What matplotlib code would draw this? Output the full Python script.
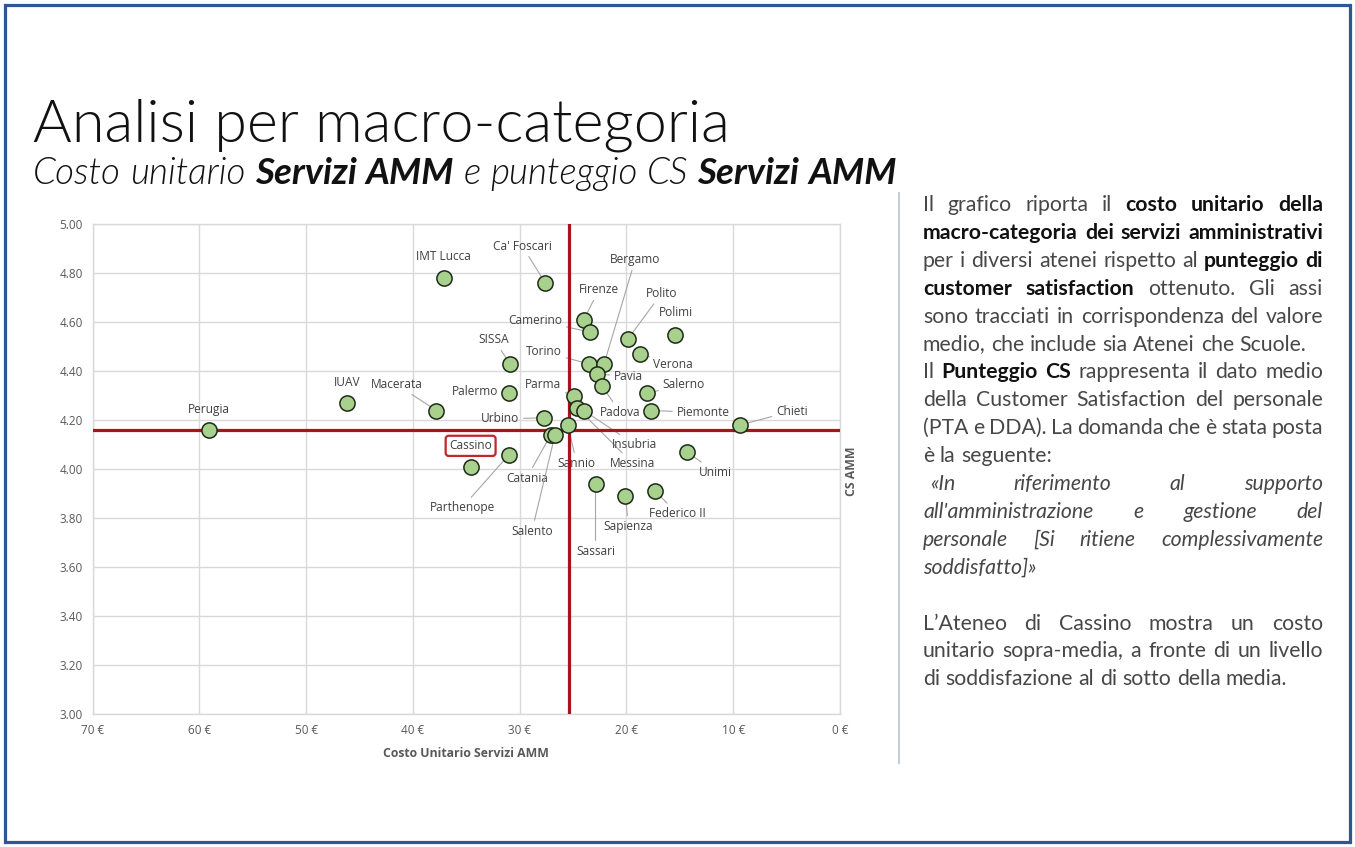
import matplotlib
matplotlib.use("Agg")
import matplotlib.pyplot as plt
from matplotlib.patches import Rectangle
from matplotlib.lines import Line2D

# ---------------- data ----------------
universities = ["Perugia", "IUAV", "Macerata", "IMT Lucca", "Ca' Foscari", "SISSA",
                "Palermo", "Cassino", "Parthenope", "Urbino", "Catania", "Salento",
                "Sannio", "Parma", "Messina", "Insubria", "Firenze", "Camerino",
                "Torino", "Bergamo", "Pavia", "Padova", "Sassari", "Polito",
                "Sapienza", "Verona", "Salerno", "Piemonte", "Federico II", "Polimi",
                "Unimi", "Chieti"]
cost = [59.1, 46.2, 37.8, 37.1, 27.6, 30.9,
        31.0, 34.6, 31.0, 27.7, 27.1, 26.7,
        25.5, 24.9, 24.6, 24.0, 24.0, 23.4,
        23.5, 22.1, 22.8, 22.3, 22.9, 19.9,
        20.1, 18.7, 18.1, 17.7, 17.3, 15.5,
        14.3, 9.4]
cs_score = [4.16, 4.27, 4.24, 4.78, 4.76, 4.43,
            4.31, 4.01, 4.06, 4.21, 4.14, 4.14,
            4.18, 4.30, 4.25, 4.24, 4.61, 4.56,
            4.43, 4.43, 4.39, 4.34, 3.94, 4.53,
            3.89, 4.47, 4.31, 4.24, 3.91, 4.55,
            4.07, 4.18]
mean_cost = 25.4
mean_cs = 4.16
x_ticks = [70, 60, 50, 40, 30, 20, 10, 0]
x_tick_labels = ["70 €", "60 €", "50 €", "40 €", "30 €", "20 €", "10 €", "0 €"]
y_ticks = [3.0, 3.2, 3.4, 3.6, 3.8, 4.0, 4.2, 4.4, 4.6, 4.8, 5.0]
y_tick_labels = ["3.00", "3.20", "3.40", "3.60", "3.80", "4.00", "4.20", "4.40",
                 "4.60", "4.80", "5.00"]

title = "Analisi per macro-categoria"
subtitle = [("Costo unitario", "i"), ("Servizi AMM", "bi"), ("e punteggio CS", "i"),
            ("Servizi AMM", "bi")]
paragraph = [
    ("Il grafico riporta il **costo unitario della**", "n", True),
    ("**macro-categoria dei servizi amministrativi**", "n", True),
    ("per i diversi atenei rispetto al **punteggio di**", "n", True),
    ("**customer satisfaction** ottenuto. Gli assi", "n", True),
    ("sono tracciati in corrispondenza del valore", "n", True),
    ("medio, che include sia Atenei che Scuole.", "n", False),
    ("Il **Punteggio CS** rappresenta il dato medio", "n", True),
    ("della Customer Satisfaction del personale", "n", True),
    ("(PTA e DDA). La domanda che è stata posta", "n", True),
    ("è la seguente:", "n", False),
    ("«In riferimento al supporto", "i", True),
    ("all'amministrazione e gestione del", "i", True),
    ("personale [Si ritiene complessivamente", "i", True),
    ("soddisfatto]»", "i", False),
    ("", "n", False),
    ("L’Ateneo di Cassino mostra un costo", "n", True),
    ("unitario sopra-media, a fronte di un livello", "n", True),
    ("di soddisfazione al di sotto della media.", "n", False),
]

# label layout: offsets in pixels (dx right, dy up), leader line flag
label_layout = {
    "Perugia": (0, 21, False), "IUAV": (0, 21, False), "Macerata": (-40, 26, True),
    "IMT Lucca": (0, 22, False), "Ca' Foscari": (-23, 37, True), "SISSA": (-16, 24, True),
    "Palermo": (-34, 2, False), "Cassino": (0, 21, False), "Parthenope": (-47, -53, True),
    "Urbino": (-44, -1, True), "Catania": (-24, -43, True), "Salento": (-23, -96, True),
    "Sannio": (9, -38, True), "Parma": (-31, 11, True), "Messina": (55, -55, True),
    "Insubria": (51, -34, True), "Firenze": (15, 30, True), "Camerino": (-55, 12, True),
    "Torino": (-45, 12, True), "Bergamo": (31, 104, True), "Pavia": (32, -3, True),
    "Padova": (18, -26, True), "Sassari": (0, -67, True), "Polito": (34, 46, True),
    "Sapienza": (3, -30, True), "Verona": (33, -10, True), "Salerno": (37, 9, True),
    "Piemonte": (52, -2, True), "Federico II": (22, -22, True), "Polimi": (1, 22, False),
    "Unimi": (28, -20, True), "Chieti": (52, 14, True),
}

# ---------------- figure ----------------
W, H, DPI = 1355, 847, 100
fig = plt.figure(figsize=(W / DPI, H / DPI), dpi=DPI)
fig.patch.set_facecolor("white")
renderer = fig.canvas.get_renderer()
PX = 72.0 / DPI  # points per pixel

def fx(px):
    return px / W

def fy(py):
    return 1 - py / H

# frame
fig.add_artist(Rectangle((fx(5), fy(842)), (1350 - 5) / W, (842 - 5) / H,
                         transform=fig.transFigure, fill=False, ec="#2f5597", lw=2.3))

# ---------------- chart ----------------
ax = fig.add_axes([fx(92.7), fy(714.3), (840 - 92.7) / W, (714.3 - 224.3) / H])
ax.set_xlim(70, 0)
ax.set_ylim(3.0, 5.0)
ax.set_xticks(x_ticks)
ax.set_xticklabels(x_tick_labels)
ax.set_yticks(y_ticks)
ax.set_yticklabels(y_tick_labels)
ax.grid(True, color="#d9d9d9", lw=1.0, zorder=0)
ax.set_axisbelow(True)
for sp in ax.spines.values():
    sp.set_color("#d9d9d9")
    sp.set_linewidth(1.0)
ax.tick_params(length=0, labelsize=8.5, labelcolor="#595959", pad=7)
for t in ax.get_xticklabels() + ax.get_yticklabels():
    t.set_fontfamily("Open Sans")

ax.axvline(mean_cost, color="#a8141c", lw=2.3, zorder=4)
ax.axhline(mean_cs, color="#a8141c", lw=2.3, zorder=4)

ax.scatter(cost, cs_score, s=120, facecolor="#a9d18e", edgecolor="#1e2a18",
           linewidth=1.1, zorder=5)

for name, c, s in zip(universities, cost, cs_score):
    dx, dy, leader = label_layout[name]
    kw = dict(xy=(c, s), xytext=(dx * PX, dy * PX), textcoords="offset points",
              ha="center", va="center", fontsize=8.6, color="#404040",
              family="Open Sans", zorder=3)
    if leader:
        kw["arrowprops"] = dict(arrowstyle="-", color="#a6a6a6", lw=0.8,
                                shrinkA=1, shrinkB=0)
    if name == "Cassino":
        kw["bbox"] = dict(boxstyle="round,pad=0.3,rounding_size=0.25", fc="white",
                          ec="#c0272d", lw=1.6)
    ax.annotate(name, **kw)

fig.text(fx(466), fy(753), "Costo Unitario Servizi AMM", ha="center", va="center",
         fontsize=8.8, fontweight="bold", color="#595959", family="Open Sans")
fig.text(fx(851), fy(471), "CS AMM", ha="center", va="center", rotation=90,
         fontsize=8.8, fontweight="bold", color="#595959", family="Open Sans")

# ---------------- text helpers ----------------
def style_kw(style, size, family="Lato", light=False):
    kw = dict(fontsize=size, family=family)
    kw["fontweight"] = "bold" if "b" in style else (300 if light else "normal")
    kw["fontstyle"] = "italic" if "i" in style else "normal"
    return kw

def measure(s, kw):
    t = fig.text(0, 0, s, **kw)
    w = t.get_window_extent(renderer).width
    t.remove()
    return w

def space_width(kw):
    return measure("a a", kw) - measure("aa", kw)

def place_words(words, x0, ybase, width=None, justify=False, draw=True):
    """words: list of (word, kw, color). Returns natural width."""
    widths = [measure(w, kw) for w, kw, _ in words]
    sp = space_width(words[0][1])
    natural = sum(widths) + sp * (len(words) - 1)
    if not draw:
        return natural
    if justify and len(words) > 1 and width is not None:
        gap = (width - sum(widths)) / (len(words) - 1)
        gap = max(gap, 0.6 * sp)
    else:
        gap = sp
    x = x0
    for (w, kw, col), wd in zip(words, widths):
        fig.text(fx(x), fy(ybase), w, ha="left", va="baseline", color=col, **kw)
        x += wd + gap
    return natural

# ---------------- title ----------------
tkw = style_kw("n", 40, light=True)
tw = measure(title, tkw)
tkw["fontsize"] = 40 * 695.0 / tw
fig.text(fx(33), fy(141), title, ha="left", va="baseline", color="#111111", **tkw)

def subtitle_words(size):
    out = []
    for txt, st in subtitle:
        kw = style_kw(st, size, light=("b" not in st))
        for w in txt.split():
            out.append((w, kw, "#111111"))
    return out

nat = place_words(subtitle_words(20), 0, 0, draw=False)
sub_size = 20 * 862.0 / nat
place_words(subtitle_words(sub_size), 33, 184)

# ---------------- paragraph ----------------
def para_words(line, style, size):
    out = []
    parts = line.split("**")
    for k, part in enumerate(parts):
        bold = (k % 2 == 1)
        st = ("b" if bold else "") + ("i" if style == "i" else "")
        kw = style_kw(st, size)
        col = "#111111" if bold else "#474747"
        for w in part.split():
            out.append((w, kw, col))
    return out

ref = para_words("medio, che include sia Atenei che Scuole.", "n", 12)
nat = place_words(ref, 0, 0, draw=False)
psize = 12 * 383.0 / nat

x_left, x_right = 923, 1323
y0, dy = 211, 27.9
for i, (line, style, just) in enumerate(paragraph):
    if not line:
        continue
    ybase = y0 + dy * i
    words = para_words(line, style, psize)
    xl = x_left + (7 if line.startswith("«In") else 0)
    place_words(words, xl, ybase, width=x_right - xl, justify=just)

fig.add_artist(Line2D([fx(899), fx(899)], [fy(193), fy(763)], transform=fig.transFigure,
                      color="#c5ced6", lw=1.5))

fig.savefig("out.png", dpi=DPI, facecolor="white")
